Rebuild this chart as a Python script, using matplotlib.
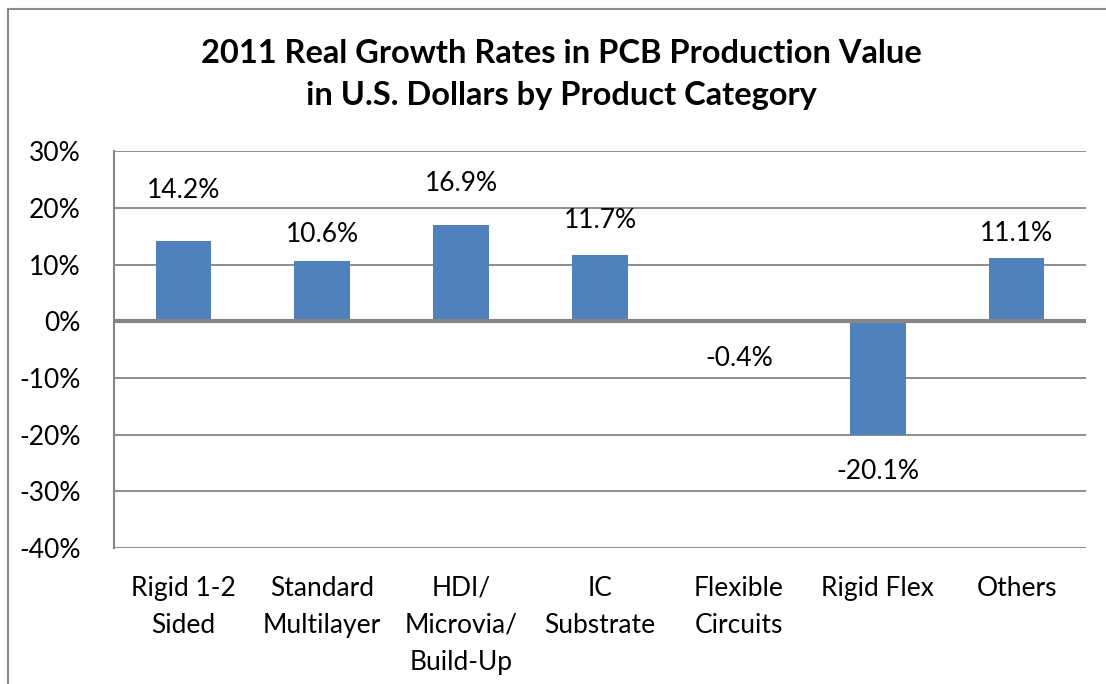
import matplotlib
matplotlib.use("Agg")
import matplotlib.pyplot as plt
from matplotlib.lines import Line2D

categories = ["Rigid 1-2\nSided", "Standard\nMultilayer", "HDI/\nMicrovia/\nBuild-Up",
              "IC\nSubstrate", "Flexible\nCircuits", "Rigid Flex", "Others"]
growth = [14.2, 10.6, 16.9, 11.7, -0.4, -20.1, 11.1]
value_labels = ["14.2%", "10.6%", "16.9%", "11.7%", "-0.4%", "-20.1%", "11.1%"]
# label offsets from bar end, in points
label_offsets = [36, 19, 30, 25, -25, -26, 18]

BAR_COLOR = "#4F81BD"
GRID_COLOR = "#868686"

plt.rcParams["font.family"] = ["Lato", "DejaVu Sans"]

fig = plt.figure(figsize=(11.06, 6.84), dpi=100)
ax = fig.add_axes([0.103, 0.199, 0.879, 0.580])

x = list(range(len(categories)))
ax.bar(x, growth, width=0.4, color=BAR_COLOR, zorder=3)

for xi, v, lab, off in zip(x, growth, value_labels, label_offsets):
    ax.annotate(lab, (xi, v), xytext=(0, off), textcoords="offset points",
                ha="center", va="center", fontsize=19, color="black")

ax.set_xlim(-0.5, len(categories) - 0.5)
ax.set_ylim(-40, 30)
yt = list(range(-40, 31, 10))
ax.set_yticks(yt)
ax.set_yticklabels([f"{t}%" for t in yt])
ax.yaxis.grid(True, color=GRID_COLOR, linewidth=1.3, zorder=0)
ax.axhline(0, color=GRID_COLOR, linewidth=3, zorder=4)
ax.tick_params(axis="y", length=0, pad=24, labelsize=19)
ax.set_xticks(x)
ax.set_xticklabels(categories, fontsize=19, linespacing=1.6, va="top")
ax.tick_params(axis="x", length=0, pad=20)

for side in ["top", "right", "bottom"]:
    ax.spines[side].set_visible(False)
ax.spines["left"].set_color(GRID_COLOR)
ax.spines["left"].set_linewidth(1.5)

fig.text(0.508, 0.891, "2011 Real Growth Rates in PCB Production Value\nin U.S. Dollars by Product Category",
         ha="center", va="center", fontsize=23.5, fontweight="bold", linespacing=1.55)

# outer chart border (only left and top visible in the crop)
fig.add_artist(Line2D([0.0075, 0.0075], [0, 0.987], transform=fig.transFigure, color="#8C8C8C", linewidth=1.5))
fig.add_artist(Line2D([0.0075, 1.0], [0.987, 0.987], transform=fig.transFigure, color="#8C8C8C", linewidth=1.5))

fig.savefig("out.png", dpi=100)
